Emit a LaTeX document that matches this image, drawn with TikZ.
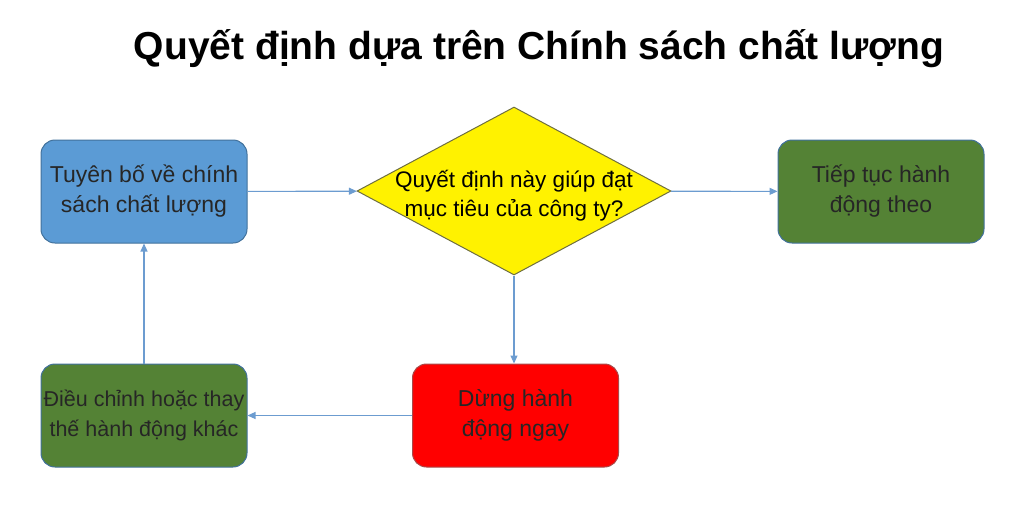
\documentclass[tikz,border=0pt]{standalone}
\usepackage{fontspec}
\setmainfont{Liberation Sans}
\usetikzlibrary{shapes.geometric,arrows.meta}
\definecolor{bfill}{HTML}{5B9BD5}
\definecolor{bline}{HTML}{41719C}
\definecolor{gfill}{HTML}{548235}
\definecolor{rline}{HTML}{A94A4A}
\definecolor{dline}{HTML}{6E6E40}
\definecolor{arr}{HTML}{6C9CD0}
\tikzset{
  box/.style={rectangle, rounded corners=14pt, minimum width=206pt, minimum height=103pt,
    line width=1pt, align=center, font=\fontsize{23}{30}\selectfont, text=black!85,
    inner xsep=-12pt, inner ysep=0pt},
  conn/.style={draw=arr, line width=1.1pt, -{Triangle[length=8pt,width=7pt]}}
}
\begin{document}
\begin{tikzpicture}[x=1pt,y=-1pt]
\useasboundingbox (0,0) rectangle (1024,509);
\node[font=\fontsize{39}{42}\selectfont\bfseries, text=black] (title) at (539,49) {Quyết định dựa trên Chính sách chất lượng};
\node[box, fill=bfill, draw=bline] (policy) at (144,191.5) {Tuyên bố về chính\\sách chất lượng};
\node[diamond, draw=dline, fill=yellow, line width=1pt, minimum width=314pt, minimum height=168pt, inner sep=0pt,
  label={[font=\fontsize{22.5}{29}\selectfont, text=black, align=center, yshift=-5pt]center:Quyết định này giúp đạt\\mục tiêu của công ty?}] (dec) at (514,191) {};
\node[box, fill=gfill, draw=bline] (cont) at (881,191.5) {Tiếp tục hành\\động theo};
\node[box, fill=red, draw=rline] (stop) at (515.5,415.5) {Dừng hành\\động ngay};
\node[box, fill=gfill, draw=bline, font=\fontsize{21.5}{30}\selectfont, inner xsep=-25pt] (adj) at (144,415.5) {Điều chỉnh hoặc thay\\thế hành động khác};
\draw[conn] (policy) -- (dec);
\draw[conn] (dec) -- (cont);
\draw[conn] (dec.south) -- (dec.south |- stop.north);
\draw[conn] (stop) -- (adj);
\draw[conn] (adj) -- (policy);
\end{tikzpicture}
\end{document}
